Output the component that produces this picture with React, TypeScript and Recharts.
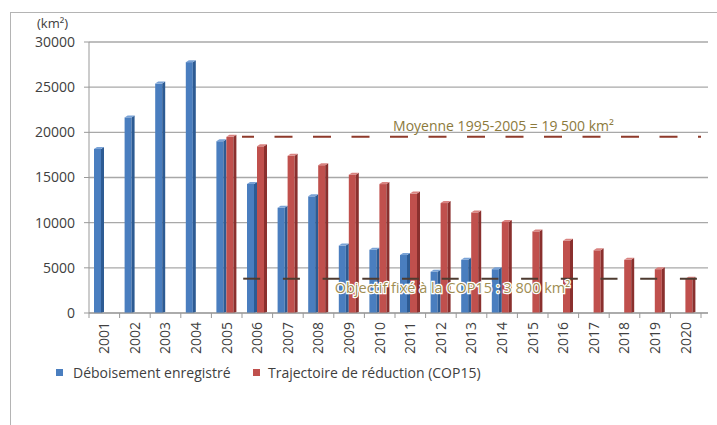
import React from 'react'
import { BarChart, Bar, XAxis, YAxis, CartesianGrid, ReferenceLine } from 'recharts'

const years = ['2001', '2002', '2003', '2004', '2005', '2006', '2007', '2008', '2009', '2010',
  '2011', '2012', '2013', '2014', '2015', '2016', '2017', '2018', '2019', '2020']
const recorded = [18165, 21651, 25396, 27772, 19014, 14286, 11651, 12911, 7464, 7000,
  6418, 4571, 5891, 4848, null, null, null, null, null, null]
const trajectory = [null, null, null, null, 19500, 18450, 17400, 16360, 15310, 14270,
  13220, 12170, 11130, 10080, 9030, 7990, 6940, 5890, 4850, 3800]
const yTicks = [0, 5000, 10000, 15000, 20000, 25000, 30000]
const average = 19500
const target = 3800

const seriesNames = ['Déboisement enregistré', 'Trajectoire de réduction (COP15)']

const data = years.map((year, i) => ({
  year,
  recorded: recorded[i],
  trajectory: trajectory[i]
}))

const FONT = '"Open Sans", "DejaVu Sans", sans-serif'
const TEXT = '#404040'
const BAND = 30.6

// fake excel 3d column: front face + darker side + lighter top
const make3D = (front: string, side: string, top: string) => (props: any) => {
  const { x, y, width, height } = props
  if (!height || height <= 0) return <g />
  const d = 3
  const fw = width - d
  return (
    <g>
      <rect x={x} y={y} width={fw} height={height} fill={front} />
      <polygon points={`${x + fw},${y} ${x + width},${y - 2} ${x + width},${y + height - 1} ${x + fw},${y + height}`} fill={side} />
      <polygon points={`${x},${y} ${x + d},${y - 2} ${x + width},${y - 2} ${x + fw},${y}`} fill={top} />
    </g>
  )
}

const BlueBar = make3D('#4a7ebf', '#2d5b93', '#79a2d6')
const RedBar = make3D('#c0504d', '#8a302e', '#d98380')

const YearTick = (props: any) => {
  const { x, y, payload, index } = props
  const last = index === years.length - 1
  return (
    <g>
      <line x1={x - BAND / 2} y1={y - 8} x2={x - BAND / 2} y2={y - 3} stroke="#999" />
      {last && <line x1={x + BAND / 2} y1={y - 8} x2={x + BAND / 2} y2={y - 3} stroke="#999" />}
      <text
        transform={`translate(${x},${y + 1}) rotate(-90)`}
        textAnchor="end"
        dy="0.35em"
        fontSize={14}
        fontFamily={FONT}
        fill={TEXT}
      >
        {payload.value}
      </text>
    </g>
  )
}

export default function App() {
  return (
    <div style={{ position: 'absolute', left: 0, top: 0, width: 717, height: 425, background: '#fff', overflow: 'hidden' }}>
      <div style={{ position: 'absolute', left: 10, top: 12, width: 720, height: 420, borderTop: '1px solid #b4b4b4', borderLeft: '1px solid #b4b4b4' }} />
      <div style={{ position: 'absolute', left: 37, top: 14, fontFamily: FONT, fontSize: 13, color: TEXT }}>
        (km²)
      </div>
      <div style={{ position: 'absolute', left: 0, top: 0 }}>
        <BarChart
          width={717}
          height={425}
          data={data}
          margin={{ top: 42, right: 9, left: 0, bottom: 62 }}
          barSize={10}
          barGap={0}
        >
          <CartesianGrid vertical={false} stroke="#a8a8a8" strokeWidth={1.3} />
          <XAxis
            dataKey="year"
            height={50}
            padding={{ left: 0, right: 7 }}
            stroke="#999"
            tickLine={false}
            tick={<YearTick />}
            interval={0}
          />
          <YAxis
            width={89}
            domain={[0, 30000]}
            ticks={yTicks}
            stroke="#999"
            tickSize={5}
            tickMargin={9}
            tick={{ fontSize: 14, fontFamily: FONT, fill: TEXT }}
          />
          <Bar dataKey="recorded" name={seriesNames[0]} fill="#4a7ebf" shape={BlueBar} isAnimationActive={false} />
          <Bar dataKey="trajectory" name={seriesNames[1]} fill="#c0504d" shape={RedBar} isAnimationActive={false} />
          <ReferenceLine
            segment={[{ x: '2005', y: average }, { x: '2020', y: average }]}
            position="end"
            stroke="#8e3a2b"
            strokeWidth={2}
            strokeDasharray="18 20.5"
            strokeDashoffset={6}
            label={{
              value: 'Moyenne 1995-2005 = 19 500 km²',
              position: 'center',
              dx: 32,
              dy: -11,
              fill: '#8c7a3c',
              fontSize: 14,
              fontFamily: FONT
            }}
          />
          <ReferenceLine
            segment={[{ x: '2005', y: target }, { x: '2020', y: target }]}
            position="end"
            stroke="#4e3b30"
            strokeWidth={2}
            strokeDasharray="17 22.7"
            strokeDashoffset={38.5}
            label={{
              value: 'Objectif fixé à la COP15 : 3 800 km²',
              position: 'center',
              dx: -19,
              dy: 9,
              fill: '#a08d52',
              stroke: '#ffffff',
              strokeWidth: 2.5,
              paintOrder: 'stroke',
              fontSize: 14.5,
              fontFamily: FONT
            }}
          />
        </BarChart>
      </div>
      <div style={{ position: 'absolute', left: 56, top: 363, display: 'flex', alignItems: 'center', fontFamily: FONT, fontSize: 14, color: TEXT, whiteSpace: 'nowrap' }}>
        <span style={{ display: 'inline-block', width: 7, height: 7, background: '#4a7ebf', marginRight: 10 }} />
        <span style={{ width: 180 }}>{seriesNames[0]}</span>
        <span style={{ display: 'inline-block', width: 7, height: 7, background: '#c0504d', marginRight: 8 }} />
        <span>{seriesNames[1]}</span>
      </div>
    </div>
  )
}
